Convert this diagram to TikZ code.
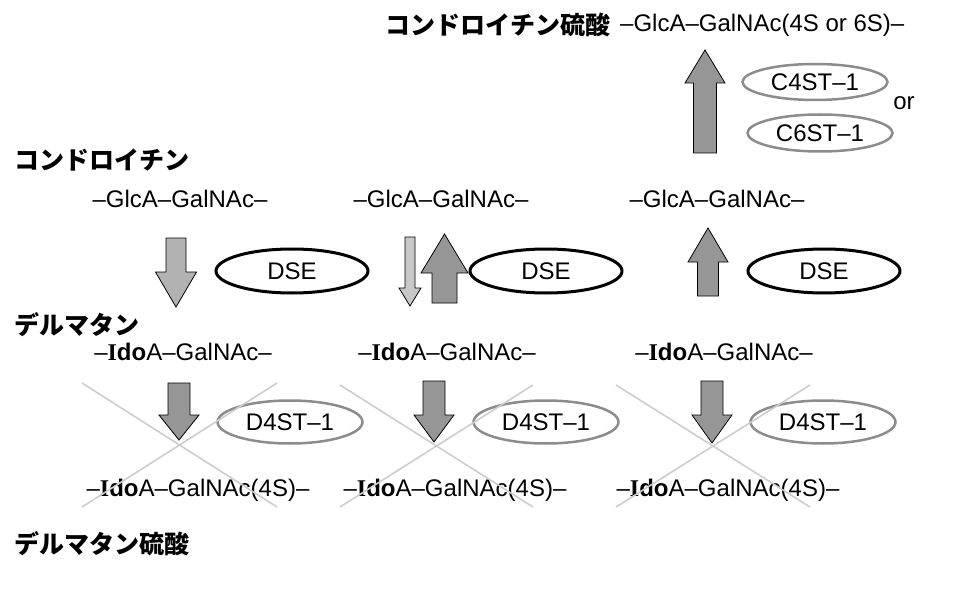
\documentclass[tikz,border=0pt]{standalone}
\usepackage{fontspec}
\setmainfont{Liberation Sans}
\newfontfamily\jp{Noto Sans CJK JP}
\newfontfamily\serifI{Liberation Serif}
\usetikzlibrary{shapes.geometric}
\definecolor{arrdark}{RGB}{150,150,150}
\definecolor{arrlight}{RGB}{178,178,178}
\definecolor{arrpale}{RGB}{200,200,200}
\definecolor{ellgray}{RGB}{140,140,140}
\definecolor{xgray}{RGB}{205,205,205}
\newcommand\blockarrow[7]{%
  \draw[#1] ({#2-#6},#3) -- ({#2-#6},#4) -- ({#2-#7},#4) -- (#2,#5) -- ({#2+#7},#4) -- ({#2+#6},#4) -- ({#2+#6},#3) -- cycle;}
\newcommand\Ido{{\serifI\bfseries I}{\bfseries do}}
\begin{document}
\begin{tikzpicture}[x=1pt,y=-1pt,
  lat/.style={font=\fontsize{24}{28}\selectfont, inner sep=0pt},
  jlab/.style={font=\jp\bfseries\fontsize{25}{30}\selectfont, inner sep=0pt, anchor=west},
  dse/.style={ellipse, draw=black, line width=3pt, minimum width=152pt, minimum height=44pt, inner sep=0pt, font=\fontsize{24}{28}\selectfont},
  enz/.style={ellipse, draw=ellgray, line width=2.5pt, minimum width=145pt, minimum height=40pt, inner sep=0pt, font=\fontsize{24}{28}\selectfont},
  darr/.style={fill=arrdark, draw=black, line width=0.8pt},
  larr/.style={fill=arrlight, draw=black, line width=0.8pt},
  parr/.style={fill=arrpale, draw=black, line width=0.8pt},
  cross/.style={draw=xgray, line width=1.6pt}]
\useasboundingbox (0,0) rectangle (954,599);
% top
\node[jlab] (cstitle) at (385,25) {コンドロイチン硫酸};
\node[lat, anchor=west] (cschain) at (620,25) {–GlcA–GalNAc(4S or 6S)–};
\blockarrow{darr}{705}{153}{83}{50}{11.5}{20}
\node[enz, minimum width=145pt, minimum height=36pt] (c4st) at (815,82) {C4ST–1};
\node[enz, minimum width=145pt, minimum height=37pt] (c6st) at (820,133) {C6ST–1};
\node[lat] (or) at (904,103) {or};
% chondroitin row
\node[jlab] (ch) at (14,160) {コンドロイチン};
\node[lat] (g1) at (180,199) {–GlcA–GalNAc–};
\node[lat] (g2) at (441,199) {–GlcA–GalNAc–};
\node[lat] (g3) at (717,199) {–GlcA–GalNAc–};
% DSE arrows
\blockarrow{larr}{176}{238}{272}{307}{10}{20.5}
\blockarrow{parr}{410}{237}{288}{306}{5}{11}
\blockarrow{darr}{444.5}{303}{273}{234}{12.5}{23.5}
\blockarrow{darr}{708}{296}{262}{228}{10.5}{20}
\node[dse] (dse1) at (292,271) {DSE};
\node[dse] (dse2) at (546,271) {DSE};
\node[dse] (dse3) at (824,271) {DSE};
% dermatan row
\node[jlab] (de) at (14,325) {デルマタン};
\node[lat] (i1) at (183,352) {–\Ido A–GalNAc–};
\node[lat] (i2) at (447,352) {–\Ido A–GalNAc–};
\node[lat] (i3) at (724,352) {–\Ido A–GalNAc–};
% D4ST arrows
\blockarrow{darr}{179}{383}{415}{440}{11}{20}
\blockarrow{darr}{434}{381}{415}{442}{11}{20}
\blockarrow{darr}{712}{381}{415}{443}{11}{20}
\node[enz, minimum height=43pt] (d4a) at (290,422) {D4ST–1};
\node[enz, minimum height=43pt] (d4b) at (546,422) {D4ST–1};
\node[enz, minimum height=43pt] (d4c) at (823,422) {D4ST–1};
% products
\node[lat] (s1) at (198,490) {–\Ido A–GalNAc(4S)–};
\node[lat] (s2) at (455,490) {–\Ido A–GalNAc(4S)–};
\node[lat] (s3) at (728,490) {–\Ido A–GalNAc(4S)–};
% crosses
\draw[cross] (82,383) -- (277,507);
\draw[cross] (277,383) -- (82,507);
\draw[cross] (340,385) -- (533,507);
\draw[cross] (533,385) -- (340,507);
\draw[cross] (616,385) -- (810,507);
\draw[cross] (810,385) -- (616,507);
\node[jlab] (ds) at (14,544) {デルマタン硫酸};
\end{tikzpicture}
\end{document}
